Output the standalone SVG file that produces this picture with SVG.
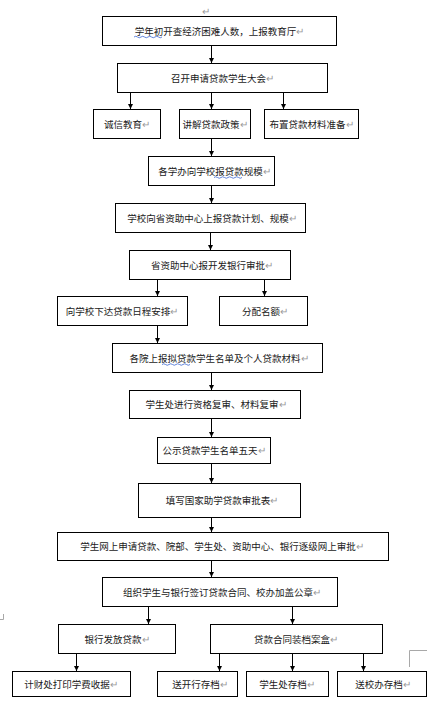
<svg xmlns="http://www.w3.org/2000/svg" width="433" height="706" viewBox="0 0 433 706">
<defs>
<style>
.b{fill:#fff;stroke:#000;stroke-width:1}
.t{font-family:"Noto Sans CJK SC","Liberation Sans",sans-serif;font-size:9.5px;fill:#1a1a1a;text-anchor:middle}
.p{fill:#9a9a9a}
.c{stroke:#000;stroke-width:1;fill:none;marker-end:url(#ah)}
.w{stroke:#3a66d0;stroke-width:0.8;fill:none}
.m{stroke:#a8a8a8;stroke-width:1;fill:none}
</style>
<marker id="ah" markerWidth="6" markerHeight="6" refX="5" refY="3" orient="auto" markerUnits="userSpaceOnUse">
<path d="M0,0.5 L5,3 L0,5.5 Z" fill="#000"/>
</marker>
</defs>
<rect width="433" height="706" fill="#fff"/>
<text class="t p" x="206" y="15">↵</text>
<path class="m" d="M0,619.5 H3.5 V614"/>
<path class="m" d="M409.5,667 V650.5 H427"/>
<g id="connectors">
<line class="c" x1="211.5" y1="45" x2="211.5" y2="63"/>
<line class="c" x1="130.5" y1="92" x2="130.5" y2="109"/>
<line class="c" x1="211.5" y1="92" x2="211.5" y2="109"/>
<line class="c" x1="283.5" y1="92" x2="283.5" y2="109"/>
<line class="c" x1="211.5" y1="138" x2="211.5" y2="156"/>
<line class="c" x1="211.5" y1="185" x2="211.5" y2="203"/>
<line class="c" x1="210.5" y1="232" x2="210.5" y2="250"/>
<line class="c" x1="157.5" y1="279" x2="157.5" y2="296"/>
<line class="c" x1="264.5" y1="279" x2="264.5" y2="296"/>
<line class="c" x1="157.5" y1="325" x2="157.5" y2="343"/>
<line class="c" x1="211.5" y1="372" x2="211.5" y2="390"/>
<line class="c" x1="211.5" y1="418" x2="211.5" y2="437"/>
<line class="c" x1="211.5" y1="463" x2="211.5" y2="483"/>
<line class="c" x1="211.5" y1="517" x2="211.5" y2="532"/>
<line class="c" x1="211.5" y1="560" x2="211.5" y2="577"/>
<line class="c" x1="148.5" y1="606" x2="148.5" y2="624"/>
<line class="c" x1="292.5" y1="606" x2="292.5" y2="624"/>
<line class="c" x1="76.5" y1="653" x2="76.5" y2="671"/>
<line class="c" x1="219.5" y1="653" x2="219.5" y2="671"/>
<line class="c" x1="292.5" y1="653" x2="292.5" y2="671"/>
<line class="c" x1="363.5" y1="653" x2="363.5" y2="671"/>
</g>
<g id="n1"><rect class="b" x="102.5" y="16.5" width="234" height="29"/><text class="t" x="219.5" y="34.5">学年初开查经济困难人数，上报教育厅<tspan class="p">↵</tspan></text><path class="w" d="M134,37 q1.75,-1.5 3.5,0 t3.5,0 t3.5,0 t3.5,0 t3.5,0 t3.5,0 t3.5,0 t3.5,0"/></g>
<g id="n2"><rect class="b" x="117.5" y="63.5" width="210" height="29"/><text class="t" x="222.5" y="81.5">召开申请贷款学生大会<tspan class="p">↵</tspan></text></g>
<g id="n3"><rect class="b" x="93.5" y="109.5" width="67" height="29"/><text class="t" x="127" y="127.5">诚信教育<tspan class="p">↵</tspan></text></g>
<g id="n4"><rect class="b" x="179.5" y="109.5" width="71" height="29"/><text class="t" x="215" y="127.5">讲解贷款政策<tspan class="p">↵</tspan></text></g>
<g id="n5"><rect class="b" x="264.5" y="109.5" width="94" height="29"/><text class="t" x="311.5" y="127.5">布置贷款材料准备<tspan class="p">↵</tspan></text></g>
<g id="n6"><rect class="b" x="148.5" y="156.5" width="126" height="29"/><text class="t" x="214.5" y="174.5">各学办向学校报贷款规模<tspan class="p">↵</tspan></text><path class="w" d="M214,177.5 q1.75,-1.5 3.5,0 t3.5,0 t3.5,0 t3.5,0 t3.5,0 t3.5,0 t3.5,0 t3.5,0"/></g>
<g id="n7"><rect class="b" x="115.5" y="203.5" width="190" height="29"/><text class="t" x="212" y="221.5">学校向省资助中心上报贷款计划、规模<tspan class="p">↵</tspan></text></g>
<g id="n8"><rect class="b" x="129.5" y="250.5" width="161" height="29"/><text class="t" x="212" y="268.5">省资助中心报开发银行审批<tspan class="p">↵</tspan></text></g>
<g id="n9"><rect class="b" x="57.5" y="296.5" width="130" height="29"/><text class="t" x="122" y="314.5">向学校下达贷款日程安排<tspan class="p">↵</tspan></text></g>
<g id="n10"><rect class="b" x="219.5" y="296.5" width="88" height="29"/><text class="t" x="265" y="314.5">分配名额<tspan class="p">↵</tspan></text></g>
<g id="n11"><rect class="b" x="112.5" y="343.5" width="210" height="29"/><text class="t" x="219" y="361.5">各院上报拟贷款学生名单及个人贷款材料<tspan class="p">↵</tspan></text><path class="w" d="M162,364.5 q1.75,-1.5 3.5,0 t3.5,0 t3.5,0 t3.5,0 t3.5,0 t3.5,0 t3.5,0 t3.5,0"/></g>
<g id="n12"><rect class="b" x="129.5" y="390.5" width="171" height="28"/><text class="t" x="216" y="408">学生处进行资格复审、材料复审<tspan class="p">↵</tspan></text></g>
<g id="n13"><rect class="b" x="157.5" y="437.5" width="113" height="26"/><text class="t" x="214" y="454">公示贷款学生名单五天<tspan class="p">↵</tspan></text></g>
<g id="n14"><rect class="b" x="138.5" y="483.5" width="162" height="34"/><text class="t" x="222" y="504">填写国家助学贷款审批表<tspan class="p">↵</tspan></text></g>
<g id="n15"><rect class="b" x="57.5" y="532.5" width="331" height="28"/><text class="t" x="222" y="550">学生网上申请贷款、院部、学生处、资助中心、银行逐级网上审批<tspan class="p">↵</tspan></text></g>
<g id="n16"><rect class="b" x="102.5" y="577.5" width="235" height="29"/><text class="t" x="222" y="595.5">组织学生与银行签订贷款合同、校办加盖公章<tspan class="p">↵</tspan></text></g>
<g id="n17"><rect class="b" x="58.5" y="624.5" width="117" height="29"/><text class="t" x="117" y="642.5">银行发放贷款<tspan class="p">↵</tspan></text></g>
<g id="n18"><rect class="b" x="210.5" y="624.5" width="172" height="29"/><text class="t" x="296" y="642.5">贷款合同装档案盒<tspan class="p">↵</tspan></text></g>
<g id="n19"><rect class="b" x="12.5" y="671.5" width="118" height="25"/><text class="t" x="71" y="687.5">计财处打印学费收据<tspan class="p">↵</tspan></text></g>
<g id="n20"><rect class="b" x="157.5" y="671.5" width="80" height="25"/><text class="t" x="200" y="687.5">送开行存档<tspan class="p">↵</tspan></text></g>
<g id="n21"><rect class="b" x="246.5" y="671.5" width="82" height="25"/><text class="t" x="287" y="687.5">学生处存档<tspan class="p">↵</tspan></text></g>
<g id="n22"><rect class="b" x="337.5" y="671.5" width="89" height="25"/><text class="t" x="383" y="687.5">送校办存档<tspan class="p">↵</tspan></text></g>
</svg>
